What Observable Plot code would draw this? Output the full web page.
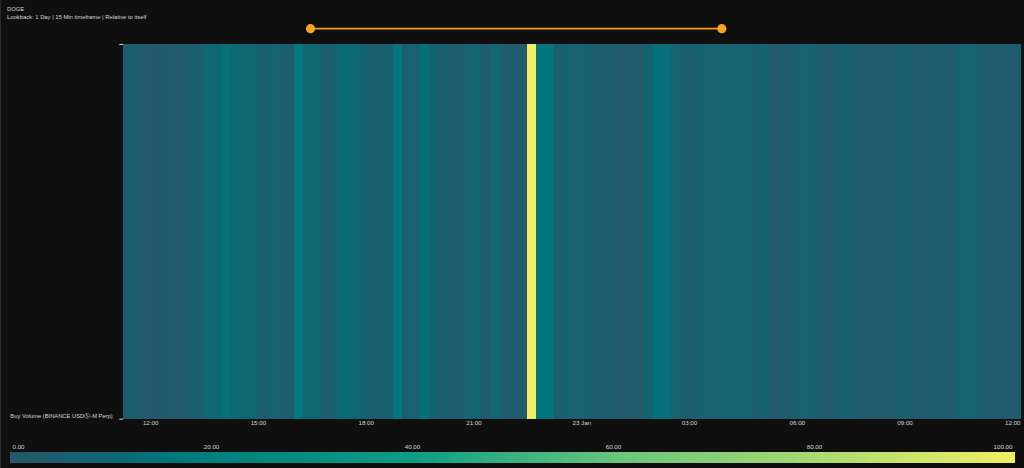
<!DOCTYPE html>
<html>
<head>
<meta charset="utf-8">
<script src="https://cdn.jsdelivr.net/npm/d3@7"></script>
<script src="https://cdn.jsdelivr.net/npm/@observablehq/plot@0.6"></script>
<style>
html,body{margin:0;padding:0;background:#0f0f0f;width:1024px;height:468px;overflow:hidden;font-family:"Liberation Sans",Arial,sans-serif}
#wrap{position:relative;width:1024px;height:468px;border-left:1px solid #2a2a2a;box-sizing:border-box}
#wrap>*{position:absolute;left:-1px}
#head{left:6px!important;top:5px;color:#d6d6d6;font-size:5.85px;line-height:8px;white-space:nowrap}
svg{display:block;background:transparent!important}
</style>
</head>
<body>
<div id="wrap"><div id="head"><div>DOGE</div><div>Lookback: 1 Day | 15 Min timeframe | Relative to itself</div></div></div>
<script>
const seriesName = "Buy Volume (BINANCE USDⓈ-M Perp)";
const startTime = "2024-01-22T11:15:00Z";
const endTime = "2024-01-23T12:15:00Z";
const buyVolume = [4,4,2,1,1,2,2,5,5,10,10,14,11,9,9,4,6,6,4,17,9,9,4,7,11,11,8,5,5,5,16,6,6,14,7,4,4,4,6,8,2,10,2,3,3,100,16,16,4,7,6,6,4,4,4,2,2,2,7,13,13,7,5,5,6,6,6,7,7,7,4,7,1,3,4,6,6,4,2,4,6,3,2,2,2,2,5,4,2,2,4,3,3,7,7,5,3,3,3,3];
const tickTimes = ["2024-01-22T12:00Z","2024-01-22T15:00Z","2024-01-22T18:00Z","2024-01-22T21:00Z","2024-01-23T00:00Z","2024-01-23T03:00Z","2024-01-23T06:00Z","2024-01-23T09:00Z","2024-01-23T12:00Z"];
const tickLabels = ["12:00","15:00","18:00","21:00","23 Jan","03:00","06:00","09:00","12:00"];
const sliderTimes = ["2024-01-22T16:27:00Z","2024-01-23T03:54:00Z"];
const colorStops = [0,5,10,15,20,40,60,80,100];
const colorRange = ["#25586a","#1b5f6f","#0c6872","#02747a","#007f7c","#0c9e83","#69c47c","#a9da72","#f0ee62"];
const legendTicks = [20,40,60,80];
const legendStart = [0];
const legendEnd = [100];

const T = d => new Date(d);
const xDomain = [T(startTime), T(endTime)];
const color = {type:"linear", domain:colorStops, range:colorRange, interpolate:"rgb"};
const left = 123.3, right = 1024-1022.3;
const step = 15*60*1000;
const cells = buyVolume.map((v,i)=>({t0:new Date(+T(startTime)+i*step), t1:new Date(+T(startTime)+(i+1)*step), v}));
const tickIdx = new Map(tickTimes.map((t,i)=>[+T(t),tickLabels[i]]));
const ink = "#d6d6d6";
const font = "Liberation Sans";
const wrap = document.getElementById("wrap");

function place(el, top){ el.style.top = top+"px"; wrap.appendChild(el); }

// range selector
const slider = Plot.plot({
  width:1024, height:44, marginLeft:left, marginRight:right, marginTop:0, marginBottom:0,
  style:{background:"transparent"},
  x:{type:"utc", domain:xDomain, axis:null},
  y:{domain:[0,1], axis:null},
  marks:[
    Plot.line(sliderTimes,{x:d=>T(d), y:()=>0.36, stroke:"#f29a1f", strokeWidth:1.6}),
    Plot.dot(sliderTimes,{x:d=>T(d), y:()=>0.36, r:4.6, fill:"#f8a427"})
  ]
});
place(slider,0);

// heatmap
const main = Plot.plot({
  width:1024, height:391, marginLeft:left, marginRight:right, marginTop:1, marginBottom:15,
  style:{background:"transparent", color:ink},
  x:{type:"utc", domain:xDomain},
  y:{domain:[0,1]},
  color,
  marks:[
    Plot.rect(cells,{x1:"t0", x2:"t1", y1:0, y2:1, fill:"v", shapeRendering:"crispEdges"}),
    Plot.axisX({ticks:tickTimes.map(T), tickFormat:d=>tickIdx.get(+d), tickSize:0, tickPadding:1, fontSize:6.2, fontFamily:font, fill:ink, label:null}),
    Plot.axisY({ticks:[0,1], tickFormat:()=>"", tickSize:4, stroke:ink, label:null}),
    Plot.text([seriesName],{frameAnchor:"bottom-left", textAnchor:"end", lineAnchor:"bottom", dx:-11, dy:-1, fontSize:5.8, fontFamily:font, fill:ink})
  ]
});
place(main,43);

// colour bar
const stops = d3.range(0,100,0.5);
const legend = Plot.plot({
  width:1024, height:30, marginLeft:10, marginRight:8, marginTop:14, marginBottom:5,
  style:{background:"transparent", color:ink},
  x:{domain:[0,100]},
  y:{domain:[0,1], axis:null},
  color,
  marks:[
    Plot.rect(stops,{x1:d=>d, x2:d=>d+0.5, y1:0, y2:1, fill:d=>d, shapeRendering:"crispEdges"}),
    Plot.axisX({anchor:"top", ticks:legendTicks, tickFormat:d=>d.toFixed(2), tickSize:0, tickPadding:3, fontSize:6.2, fontFamily:font, fill:ink, label:null}),
    Plot.text(legendStart,{x:d=>d, frameAnchor:"top", lineAnchor:"bottom", dx:2, dy:-3, text:d=>d.toFixed(2), textAnchor:"start", fontSize:6.2, fontFamily:font, fill:ink}),
    Plot.text(legendEnd,{x:d=>d, frameAnchor:"top", lineAnchor:"bottom", dx:-3, dy:-3, text:d=>d.toFixed(2), textAnchor:"end", fontSize:6.2, fontFamily:font, fill:ink})
  ]
});
place(legend,438);
</script>
</body>
</html>
